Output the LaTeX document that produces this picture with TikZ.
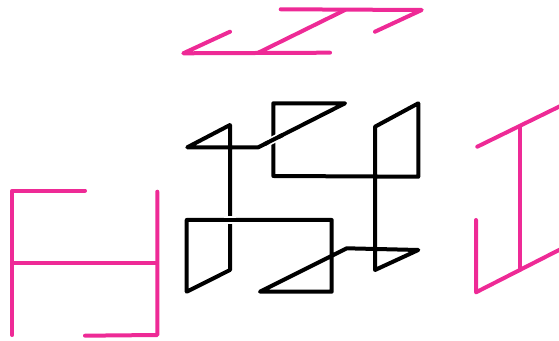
\documentclass[tikz,border=0pt]{standalone}
\usepackage{xcolor}
\usetikzlibrary{calc}
\definecolor{hotpink}{HTML}{EE2A96}

\begin{document}
\begin{tikzpicture}[
  x=0.75pt,
  y=-0.75pt,
  curveline/.style={
    draw=black,
    line width=3pt,
    line join=round,
    line cap=round
  },
  haloline/.style={
    draw=white,
    line width=5.5pt
  },
  pinkline/.style={
    draw=hotpink,
    line width=3pt,
    line join=round,
    line cap=round
  }
]
\useasboundingbox (0,0) rectangle (559,341);
\clip (0,0) rectangle (559,341);

% main curve
\coordinate (c1) at (187.3,147.3);
\coordinate (c2) at (230,125);
\coordinate (c3) at (230,270);
\coordinate (c4) at (186.7,291.7);
\coordinate (c5) at (186.7,220);
\coordinate (c6) at (331.7,220);
\coordinate (c7) at (331.7,291.7);
\coordinate (c8) at (260,291.7);
\coordinate (c9) at (346.7,248.3);
\coordinate (c10) at (418.3,250);
\coordinate (c11) at (375,270);
\coordinate (c12) at (375,126.7);
\coordinate (c13) at (418.3,103.3);
\coordinate (c14) at (418.3,176.7);
\coordinate (c15) at (273.3,176);
\coordinate (c16) at (273.3,103.3);
\coordinate (c17) at (345,103.3);
\coordinate (c18) at (258.3,147.3);

\draw[curveline] (c1) -- (c2) -- (c3) -- (c4) -- (c5) -- (c6) -- (c7) -- (c8) -- (c9)
  -- (c10) -- (c11) -- (c12) -- (c13) -- (c14) -- (c15) -- (c16) -- (c17) -- (c18) -- cycle;

% crossings
\draw[haloline] (224,220) -- (236,220);
\draw[curveline,line cap=butt] (215,220) -- (245,220);
\draw[haloline] ($(c17)!0.77!(c18)$) -- ($(c17)!0.88!(c18)$);
\draw[curveline,line cap=butt] ($(c17)!0.72!(c18)$) -- ($(c17)!0.93!(c18)$);

% outer strokes
\draw[pinkline] (230,31.7) -- (183.3,53.3) -- (330,52.7);
\draw[pinkline] (258.3,52.7) -- (345,10);
\draw[pinkline] (280.7,9.3) -- (421.7,10) -- (375,31.7);

\draw[pinkline] (85,190.7) -- (12.3,190.7) -- (12.3,335);
\draw[pinkline] (13,263.3) -- (156.7,263.3);
\draw[pinkline] (157.3,191.7) -- (157.3,335) -- (85,335.7);

\draw[pinkline] (477.3,146.7) -- (570,101.3);
\draw[pinkline] (520,126.7) -- (520,270);
\draw[pinkline] (476,220) -- (476,292.3) -- (570,244.4);
\end{tikzpicture}
\end{document}
